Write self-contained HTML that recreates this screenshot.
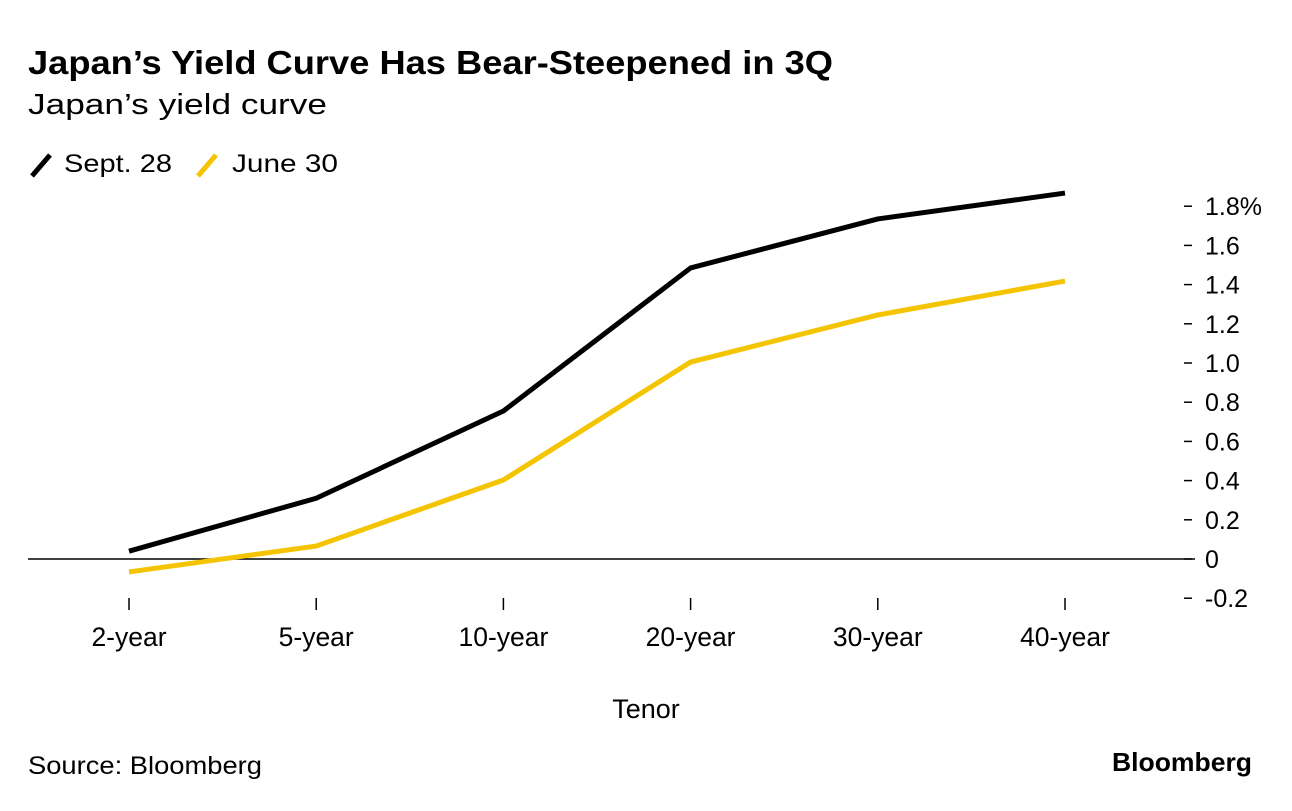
<!DOCTYPE html>
<html><head><meta charset="utf-8"><style>
body{margin:0;background:#fff;font-family:"Liberation Sans",Arial,sans-serif;}
svg text{font-family:"Liberation Sans",Arial,sans-serif;}
</style></head><body>
<svg width="1292" height="806" viewBox="0 0 1292 806">
<text x="28" y="74" font-size="33" font-weight="bold" fill="#000" textLength="805" lengthAdjust="spacingAndGlyphs">Japan’s Yield Curve Has Bear-Steepened in 3Q</text>
<text x="28" y="114" font-size="29" fill="#000" textLength="299" lengthAdjust="spacingAndGlyphs">Japan’s yield curve</text>
<g>
<line x1="32" y1="176" x2="50" y2="155" stroke="#000" stroke-width="5"/>
<text x="64" y="172" font-size="25" textLength="108" lengthAdjust="spacingAndGlyphs">Sept. 28</text>
<line x1="198" y1="176" x2="216" y2="155" stroke="#f5c400" stroke-width="5"/>
<text x="232" y="172" font-size="25" textLength="106" lengthAdjust="spacingAndGlyphs">June 30</text>
</g>
<g id="axes"></g>
<g id="series"></g>
<text x="646" y="718" font-size="27" text-anchor="middle">Tenor</text>
<text x="28" y="774" font-size="25" textLength="234" lengthAdjust="spacingAndGlyphs">Source: Bloomberg</text>
<text x="1112" y="771" font-size="26" font-weight="bold" textLength="140" lengthAdjust="spacingAndGlyphs">Bloomberg</text>
</svg>
<script>
const categories=["2-year","5-year","10-year","20-year","30-year","40-year"];
const sept28=[0.04,0.31,0.755,1.485,1.735,1.867];
const june30=[-0.066,0.066,0.403,1.005,1.245,1.418];
const yTicks=[-0.2,0,0.2,0.4,0.6,0.8,1.0,1.2,1.4,1.6,1.8];
const yTickLabels=["-0.2","0","0.2","0.4","0.6","0.8","1.0","1.2","1.4","1.6","1.8%"];
const NS="http://www.w3.org/2000/svg";
function x(i){return 129+i*187.2;}
function y(v){return 559-v*196;}
function mk(tag,attrs,parent){const e=document.createElementNS(NS,tag);for(const k in attrs)e.setAttribute(k,attrs[k]);parent.appendChild(e);return e;}
const ax=document.getElementById('axes');
yTicks.forEach((v,i)=>{
  const t=mk('line',{x1:1184,x2:1192,y1:y(v),y2:y(v),stroke:'#000','stroke-width':1.5},ax);
  
  
  const l=mk('text',{x:1205,y:y(v)+9,'font-size':25},ax);
  l.textContent=yTickLabels[i];
  
  
});
const z=mk('line',{x1:28,x2:1195,y1:y(0),y2:y(0),stroke:'#000','stroke-width':1.5},ax);


categories.forEach((c,i)=>{
  const t=mk('line',{x1:x(i),x2:x(i),y1:598,y2:610,stroke:'#000','stroke-width':1.5},ax);
  
  
  const l=mk('text',{x:x(i),y:646,'font-size':26.5,'text-anchor':'middle'},ax);
  l.textContent=c;
  
  
});
const se=document.getElementById('series');
function line(vals,color,name){
  const p=mk('polyline',{points:vals.map((v,i)=>x(i)+','+y(v)).join(' '),fill:'none',stroke:color,'stroke-width':5,'stroke-linejoin':'round'},se);
  
  
}
line(june30,'#f5c400','line-june-30');
line(sept28,'#000','line-sept-28');
</script>
</body></html>
